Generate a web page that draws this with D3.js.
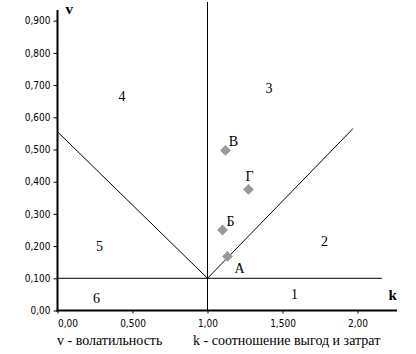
<!DOCTYPE html>
<html><head><meta charset="utf-8">
<script src="https://cdn.jsdelivr.net/npm/d3@7"></script>
<style>body{margin:0;background:#fff}svg{display:block}</style>
</head><body>
<script>
// Data
const xTicks = [0, 0.5, 1.0, 1.5, 2.0];
const xTickLabels = ["0,00", "0,500", "1,00", "1,500", "2,00"];
const yTicks = [0, 0.1, 0.2, 0.3, 0.4, 0.5, 0.6, 0.7, 0.8, 0.9];
const yTickLabels = ["0,00", "0,100", "0,200", "0,300", "0,400", "0,500", "0,600", "0,700", "0,800", "0,900"];
const pointNames = ["А", "Б", "В", "Г"];
const pointK = [1.133, 1.10, 1.12, 1.273];
const pointV = [0.168, 0.25, 0.497, 0.376];
// boundary lines: [k1, v1, k2, v2]
const boundaryLines = [
  [0, 0.555, 1.0, 0.1],
  [1.0, 0.1, 1.97, 0.565],
  [1.0, 0, 1.0, 0.958],
  [0, 0.1, 2.163, 0.1]
];
const regionNames = ["1", "2", "3", "4", "5", "6"];
const regionK = [1.58, 1.78, 1.41, 0.43, 0.28, 0.26];
const regionV = [0.05, 0.215, 0.69, 0.667, 0.20, 0.040];

const W = 416, H = 354;
const svg = d3.select("body").append("svg").attr("width", W).attr("height", H);
const x = d3.scaleLinear().domain([0, 2]).range([57.5, 357.5]);
const y = d3.scaleLinear().domain([0, 0.9]).range([310.5, 20.7]);

const serif = "'Liberation Serif','Times New Roman',serif";
const sans = "'DejaVu Sans Condensed','DejaVu Sans',sans-serif";

// boundary lines
svg.append("g").selectAll("line").data(boundaryLines).join("line")
  .attr("x1", d => x(d[0])).attr("y1", d => y(d[1]))
  .attr("x2", d => x(d[2])).attr("y2", d => y(d[3]))
  .attr("stroke", "#000").attr("stroke-width", 1);

// axes
const xAxis = d3.axisBottom(x).tickValues(xTicks).tickSize(3).tickSizeOuter(0)
  .tickFormat((d, i) => xTickLabels[i]);
const gx = svg.append("g").attr("transform", `translate(0,${y(0)})`).call(xAxis);
gx.select(".domain").remove();
gx.selectAll("text").attr("font-family", sans).attr("font-size", 10).attr("fill", "#000").attr("dy", "1.05em");
gx.selectAll(".tick").filter((d, i) => i === 0).select("text").attr("text-anchor", "start").attr("dx", 0);
gx.selectAll(".tick line").attr("stroke", "#000");

const yAxis = d3.axisLeft(y).tickValues(yTicks).tickSize(4).tickSizeOuter(0)
  .tickFormat((d, i) => yTickLabels[i]);
const gy = svg.append("g").attr("transform", `translate(${x(0)},0)`).call(yAxis);
gy.select(".domain").remove();
gy.selectAll("text").attr("font-family", sans).attr("font-size", 10).attr("fill", "#000").attr("x", -7);
gy.selectAll(".tick line").attr("stroke", "#000");

// axis lines (thick)
svg.append("line").attr("x1", x(0) - 1).attr("x2", x(2.263)).attr("y1", y(0)).attr("y2", y(0))
  .attr("stroke", "#000").attr("stroke-width", 2);
svg.append("line").attr("x1", x(0)).attr("x2", x(0)).attr("y1", y(0) + 1).attr("y2", y(0.933))
  .attr("stroke", "#000").attr("stroke-width", 2);

// axis letters
svg.append("text").attr("x", x(2.263)).attr("y", 300).attr("text-anchor", "end")
  .attr("font-family", serif).attr("font-weight", "bold").attr("font-size", 15).text("k");
svg.append("text").attr("x", x(0) + 8).attr("y", 14)
  .attr("font-family", serif).attr("font-weight", "bold").attr("font-size", 15).text("v");

// region numbers
svg.append("g").selectAll("text").data(regionNames).join("text")
  .attr("x", (d, i) => x(regionK[i])).attr("y", (d, i) => y(regionV[i]))
  .attr("text-anchor", "middle").attr("dy", "0.35em")
  .attr("font-family", serif).attr("font-size", 14).text(d => d);

// points
const pts = pointNames.map((n, i) => ({n, k: pointK[i], v: pointV[i]}));
svg.append("g").selectAll("path").data(pts).join("path")
  .attr("d", d3.symbol().type(d3.symbolSquare).size(58)())
  .attr("transform", d => `translate(${x(d.k)},${y(d.v)}) rotate(45)`)
  .attr("fill", "#999999");
const labelOff = {"А": [12, 12], "Б": [8, -9], "В": [8, -9], "Г": [1, -13]};
svg.append("g").selectAll("text").data(pts).join("text")
  .attr("x", d => x(d.k) + labelOff[d.n][0]).attr("y", d => y(d.v) + labelOff[d.n][1])
  .attr("text-anchor", "middle").attr("dy", "0.35em")
  .attr("font-family", serif).attr("font-size", 14).text(d => d.n);

// bottom captions
svg.append("text").attr("x", 57).attr("y", 345).attr("font-family", serif).attr("font-size", 14)
  .text("v - волатильность");
svg.append("text").attr("x", 193).attr("y", 345).attr("font-family", serif).attr("font-size", 14)
  .text("k - соотношение выгод и затрат");
</script>
</body></html>
